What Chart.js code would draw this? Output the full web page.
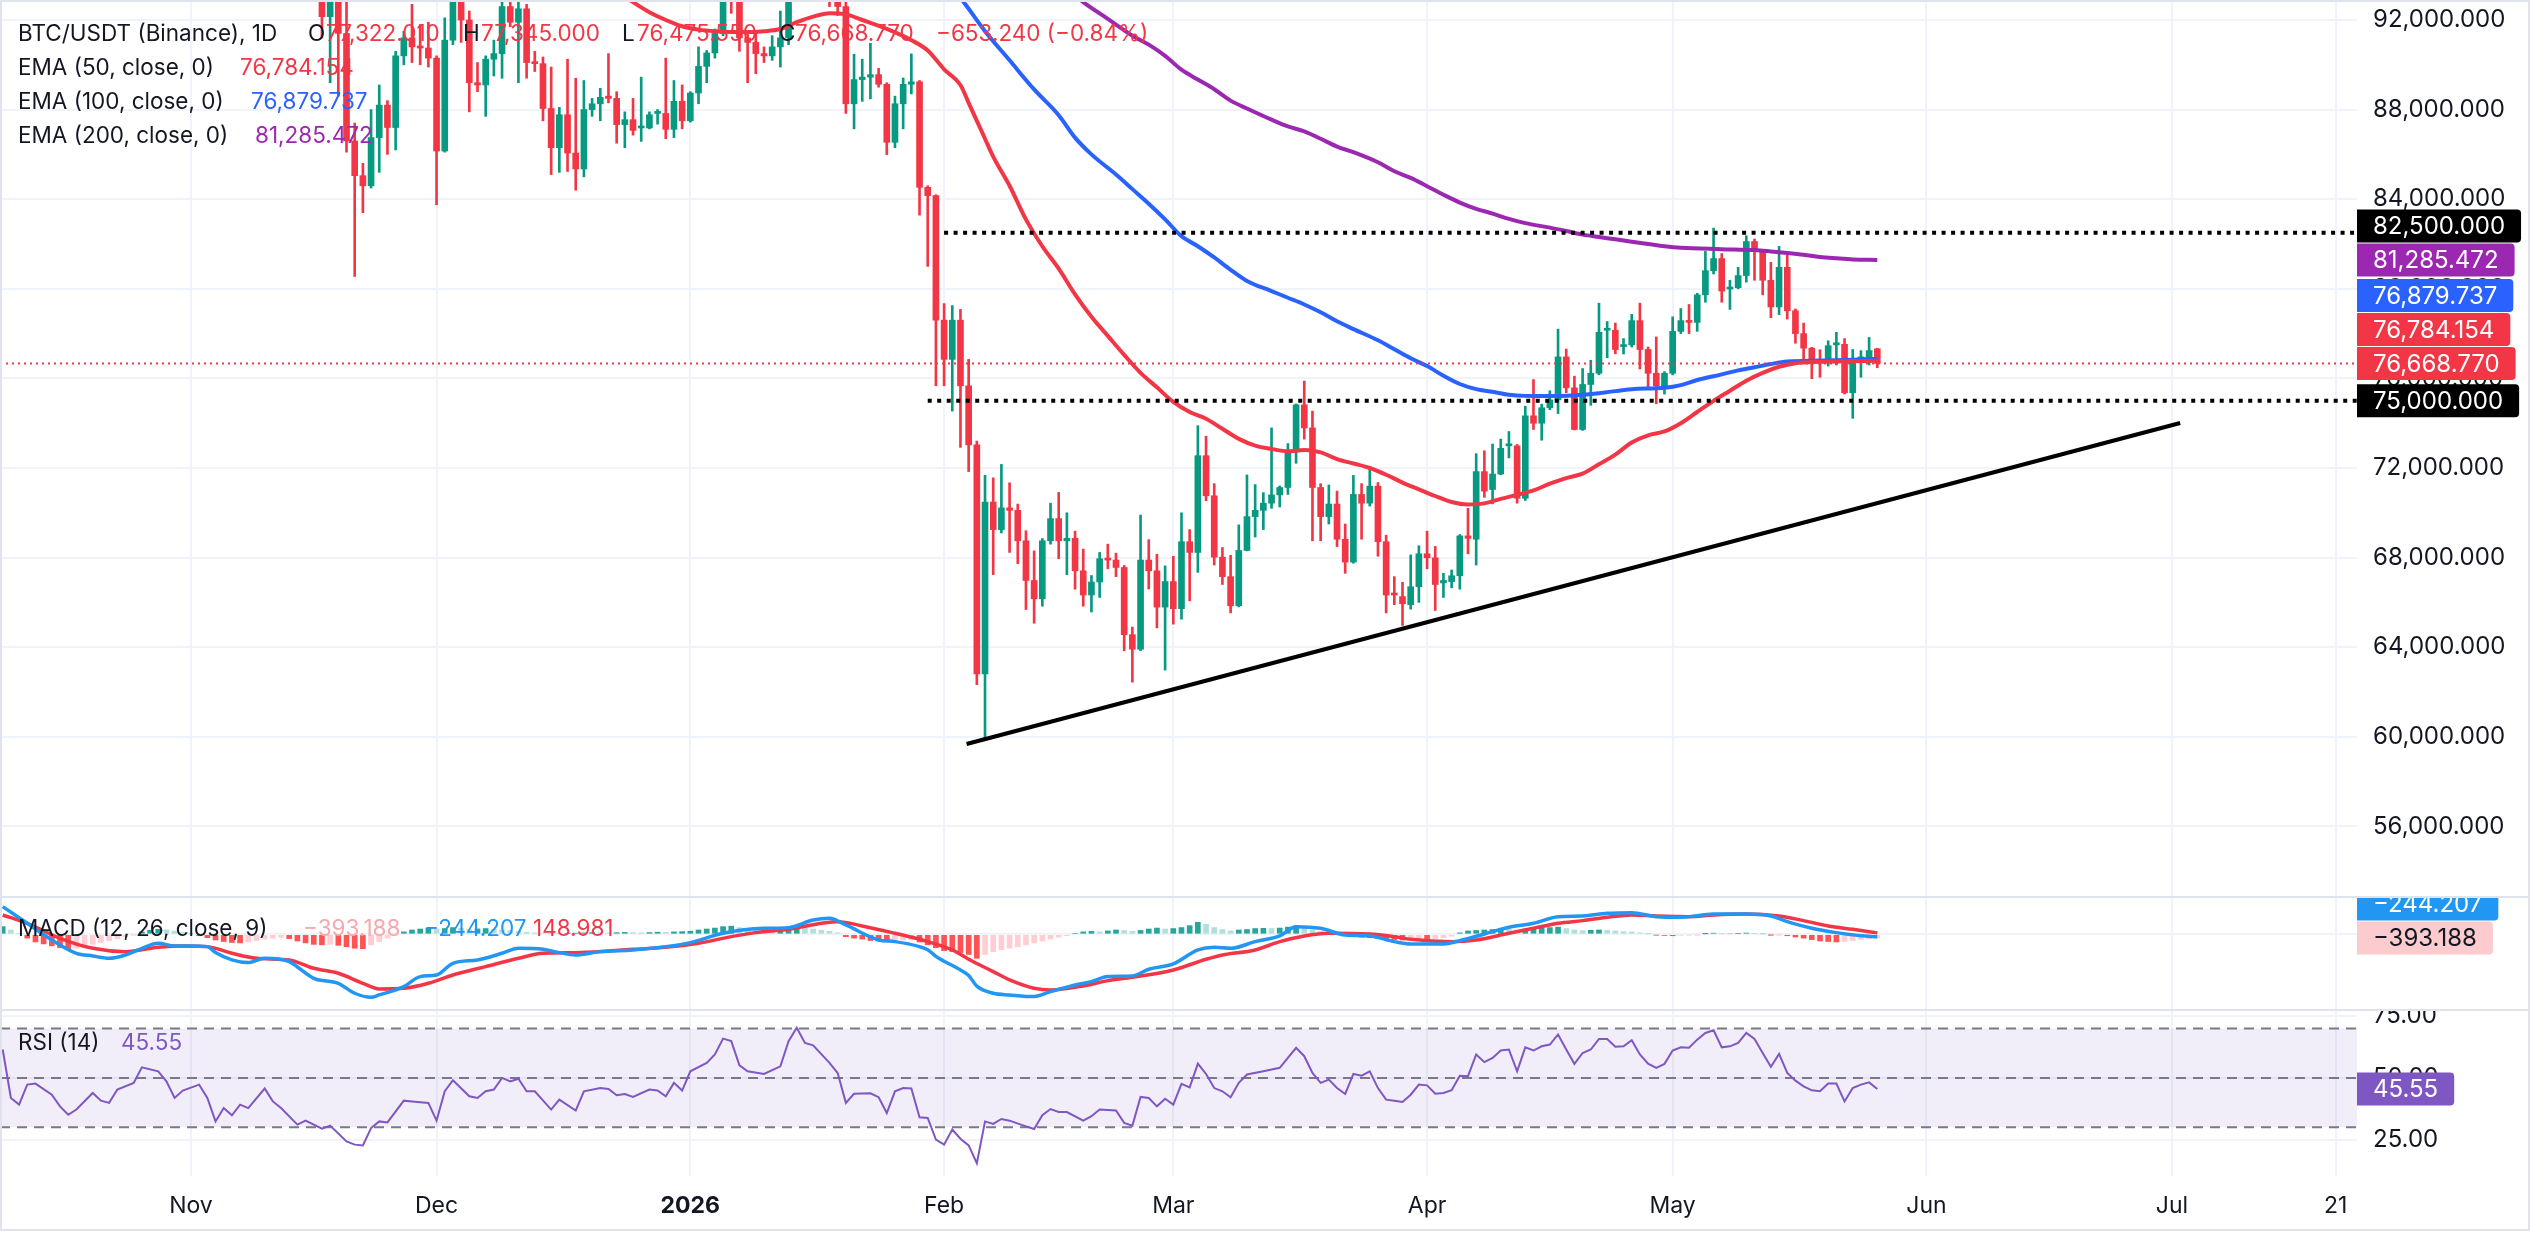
<!DOCTYPE html>
<html>
<head>
<meta charset="utf-8">
<title>BTC/USDT 1D</title>
<script src="https://cdn.jsdelivr.net/npm/chart.js@4.4.1/dist/chart.umd.min.js"></script>
<style>
  html, body { margin: 0; padding: 0; background: #fff; }
  body { position: relative; width: 2530px; height: 1253px; overflow: hidden; font-family: Inter, "Noto Sans", sans-serif; color: #131722; }
  canvas { position: absolute; left: 0; }
  .line { position: absolute; background: #e0e3eb; }
  .txt { position: absolute; white-space: nowrap; font-size: 22.5px; line-height: 26px; transform: translateY(-50%); }
</style>
</head>
<body>
<canvas id="mainChart" width="2530" height="896" style="top:0"></canvas>
<canvas id="macdChart" width="2530" height="111" style="top:898px"></canvas>
<canvas id="rsiChart" width="2530" height="218" style="top:1011px"></canvas>
<div class="line" style="left:0;top:896px;width:2530px;height:2px"></div>
<div class="line" style="left:0;top:1009px;width:2530px;height:2px"></div>
<div class="line" style="left:0;top:0;width:2530px;height:2px"></div>
<div class="line" style="left:0;top:1229px;width:2530px;height:2px"></div>
<div class="line" style="left:0;top:0;width:2px;height:1231px"></div>
<div class="line" style="left:2528px;top:0;width:2px;height:1231px"></div>
<div id="legend"></div>
<script>
// x values are days counted from 1 Feb 2026 (day 0), one candle per day
const FIRST_CANDLE_DAY = -76; // 17 Nov 2025

// candles, prices in thousands of USDT
const opens = [
  94.2, 92.15, 92.9, 91.4, 86.6, 85.05, 84.6, 86.75, 88.2, 87.2,
  90.4, 91.2, 90.8, 90.75, 90.3, 86.15, 91.1, 93.5, 92.0, 89.2,
  89.1, 90.25, 90.5, 92.6, 91.9, 92.5, 90.1, 90.05, 88.05, 86.3,
  87.77, 86.06, 85.35, 88.0, 88.26, 88.6, 88.5, 87.33, 87.55, 87.18,
  87.18, 87.83, 87.83, 87.12, 88.37, 87.5, 88.74, 89.93, 90.53, 91.4,
  93.8, 93.7, 91.2, 91.0, 90.5, 90.4, 90.8, 91.2, 95.3, 97.0,
  95.6, 95.5, 95.1, 93.6, 92.6, 88.26, 89.34, 89.45, 89.56, 89.13,
  86.54, 88.26, 89.13, 89.24, 84.53, 84.16, 78.6, 76.85, 78.6, 75.67,
  73.03, 62.81, 70.48, 69.25, 70.22, 70.11, 68.75, 66.98, 66.16, 68.75,
  69.74, 68.75, 68.86, 67.41, 66.33, 66.91, 67.95, 67.89, 67.56, 64.56,
  63.91, 67.89, 67.41, 65.79, 66.93, 65.72, 68.71, 68.23, 72.55, 70.76,
  68.02, 67.15, 65.85, 68.32, 69.83, 70.11, 70.43, 70.8, 71.13, 72.77,
  74.82, 73.79, 71.13, 69.83, 70.39, 68.82, 67.8, 70.82, 70.43, 71.19,
  68.71, 66.39, 66.26, 65.9, 66.7, 68.17, 67.99, 66.87, 66.93, 67.19,
  68.97, 68.82, 71.84, 71.04, 71.73, 72.99, 72.99, 70.65, 74.33, 74.0,
  74.69, 75.04, 76.96, 75.58, 73.72, 75.73, 76.23, 78.15, 78.15, 77.42,
  77.5, 78.58, 77.29, 76.23, 75.67, 76.23, 78.1, 78.58, 78.5, 79.73,
  80.81, 81.35, 79.99, 80.05, 80.59, 82.11, 81.67, 80.38, 79.19, 80.96,
  79.02, 78.0, 77.35, 76.81, 76.7, 77.5, 77.52, 75.36, 76.85, 76.92,
  77.32201
];
const highs = [
  96.0, 93.8, 93.0, 93.1, 87.4, 85.6, 88.0, 89.1, 88.4, 90.6,
  91.5, 92.7, 91.8, 91.9, 90.4, 92.1, 94.1, 94.0, 92.4, 90.1,
  90.4, 91.1, 93.0, 94.0, 93.0, 92.7, 90.6, 90.35, 89.9, 88.1,
  90.25, 89.4, 89.3, 88.5, 88.95, 90.5, 88.8, 87.9, 88.5, 89.45,
  87.9, 88.0, 90.3, 89.3, 89.1, 88.8, 90.8, 90.64, 91.6, 94.5,
  94.6, 94.0, 91.5, 91.5, 90.8, 91.3, 92.4, 95.5, 97.9, 97.2,
  95.9, 95.6, 95.5, 93.7, 93.0, 90.47, 90.25, 90.96, 89.84, 89.2,
  88.6, 89.41, 90.49, 89.3, 84.6, 84.2, 79.34, 79.25, 79.08, 76.85,
  73.2, 71.67, 71.56, 72.16, 71.34, 70.39, 69.2, 68.3, 68.85, 70.43,
  70.91, 70.0, 69.18, 68.38, 67.2, 68.23, 68.6, 68.2, 67.65, 64.9,
  69.9, 68.8, 68.15, 67.63, 68.06, 70.0, 69.25, 73.89, 73.42, 71.3,
  68.45, 68.1, 69.46, 71.69, 71.26, 70.9, 73.79, 71.2, 73.09, 74.86,
  75.88, 74.54, 71.3, 71.24, 70.97, 69.5, 71.67, 71.3, 71.95, 71.35,
  69.0, 67.15, 66.9, 68.12, 68.53, 69.18, 68.5, 67.3, 67.45, 69.03,
  70.2, 72.64, 72.77, 73.07, 73.29, 73.63, 73.05, 74.76, 75.95, 74.85,
  75.45, 78.2, 77.31, 76.1, 76.44, 76.81, 79.36, 78.54, 78.47, 77.78,
  78.86, 79.36, 77.4, 77.85, 76.3, 78.75, 79.12, 79.3, 79.8, 81.67,
  82.71, 81.57, 80.38, 80.96, 82.37, 82.22, 81.71, 81.18, 81.89, 81.57,
  79.1, 78.47, 77.39, 77.28, 77.68, 78.06, 77.78, 77.29, 77.24, 77.83,
  77.345
];
const lows = [
  91.2, 89.2, 88.6, 86.1, 80.55, 83.4, 84.5, 85.2, 86.0, 86.2,
  90.0, 90.1, 90.0, 89.9, 83.75, 86.1, 90.9, 91.0, 87.9, 88.8,
  87.7, 89.5, 89.4, 91.7, 89.2, 89.4, 89.7, 87.5, 85.1, 85.2,
  85.24, 84.4, 85.0, 87.7, 87.5, 88.3, 86.5, 86.3, 86.86, 86.58,
  87.14, 87.35, 86.7, 86.75, 87.14, 87.44, 88.26, 89.2, 90.3, 91.3,
  92.3, 90.6, 89.2, 89.6, 90.1, 90.2, 89.9, 90.9, 94.8, 95.1,
  94.3, 94.9, 92.6, 92.2, 87.83, 87.14, 88.37, 88.48, 89.0, 85.99,
  86.3, 87.14, 88.7, 83.29, 81.0, 75.67, 75.67, 74.54, 72.92, 71.84,
  62.33, 59.95, 67.24, 69.1, 68.23, 67.73, 65.68, 65.07, 65.83, 68.6,
  67.95, 67.24, 66.59, 65.83, 65.57, 66.22, 67.5, 67.15, 63.84, 62.44,
  63.85, 66.6, 64.86, 62.98, 65.03, 65.25, 66.07, 67.34, 70.54, 67.67,
  66.8, 65.53, 65.8, 68.3, 68.92, 69.25, 70.2, 70.26, 70.82, 72.21,
  73.29, 68.75, 68.75, 69.5, 68.49, 67.3, 67.75, 68.82, 70.3, 68.06,
  65.53, 65.9, 64.97, 65.7, 66.0, 67.5, 65.64, 66.22, 66.65, 66.59,
  68.17, 67.67, 70.69, 70.4, 71.7, 72.45, 70.43, 70.55, 73.72, 73.24,
  74.6, 74.43, 75.36, 73.7, 73.68, 74.8, 76.16, 76.92, 77.1, 77.09,
  77.4, 76.42, 75.62, 74.87, 75.3, 76.16, 78.0, 78.0, 78.1, 79.4,
  80.66, 79.4, 79.08, 80.0, 80.3, 80.38, 79.73, 78.71, 78.85, 78.65,
  77.57, 76.7, 75.99, 76.05, 76.55, 76.6, 75.3, 74.22, 76.05, 76.6,
  76.47555
];
const closes = [
  92.15, 92.9, 91.4, 86.6, 85.05, 84.6, 86.75, 88.2, 87.2, 90.4,
  91.2, 90.8, 90.75, 90.3, 86.15, 91.1, 93.5, 92.0, 89.2, 89.1,
  90.25, 90.5, 92.6, 91.9, 92.5, 90.1, 90.05, 88.05, 86.3, 87.77,
  86.06, 85.35, 88.0, 88.26, 88.55, 88.5, 87.33, 87.55, 87.07, 87.25,
  87.77, 87.88, 87.12, 88.37, 87.5, 88.74, 89.93, 90.53, 91.4, 93.8,
  93.7, 91.2, 91.0, 90.5, 90.4, 90.8, 91.2, 95.3, 97.0, 95.6,
  95.5, 95.1, 93.6, 92.6, 88.26, 89.34, 89.45, 89.56, 89.13, 86.54,
  88.26, 89.13, 89.24, 84.53, 84.16, 78.6, 76.85, 78.6, 75.67, 73.03,
  62.81, 70.48, 69.25, 70.22, 70.11, 68.75, 66.98, 66.16, 68.75, 69.74,
  68.75, 68.86, 67.41, 66.33, 66.91, 67.95, 67.89, 67.56, 64.56, 63.91,
  67.89, 67.41, 65.79, 66.93, 65.72, 68.71, 68.23, 72.55, 70.76, 68.02,
  67.15, 65.85, 68.32, 69.83, 70.11, 70.43, 70.8, 71.13, 72.77, 74.82,
  73.79, 71.13, 69.83, 70.39, 68.82, 67.8, 70.82, 70.43, 71.19, 68.71,
  66.33, 66.33, 65.94, 66.7, 68.17, 67.99, 66.8, 66.98, 67.19, 68.97,
  68.86, 71.84, 70.97, 71.73, 72.88, 73.03, 70.65, 74.33, 74.0, 74.69,
  75.04, 76.96, 75.58, 73.72, 75.73, 76.23, 78.06, 78.17, 77.29, 77.5,
  78.58, 77.29, 76.23, 75.67, 76.23, 78.1, 78.58, 78.5, 79.73, 80.81,
  81.35, 79.9, 80.05, 80.59, 82.11, 81.67, 80.38, 79.19, 80.96, 79.02,
  78.0, 77.35, 76.7, 76.7, 77.46, 77.52, 75.36, 76.85, 76.96, 77.24,
  76.66877
];

// moving averages (day, thousands)
const ema50Days = [-40, -38, -36, -34, -32, -30, -28, -24, -22, -20, -18, -16, -14, -12, -10, -7, -4, -2, 0, 2, 3, 4, 5, 6, 8, 10, 12, 14, 16, 18, 20, 22, 24, 26, 28, 30, 32, 34, 36, 38, 40, 42, 44, 46, 48, 50, 52, 54, 56, 58, 60, 62, 64, 66, 68, 70, 72, 74, 76, 78, 80, 82, 84, 86, 88, 90, 92, 94, 96, 98, 100, 102, 104, 107, 110, 114];
const ema50 = [93.3, 92.8, 92.35, 92.0, 91.72, 91.57, 91.5, 91.46, 91.5, 91.6, 91.9, 92.15, 92.3, 92.25, 92.0, 91.6, 91.1, 90.64, 89.8, 89.1, 88.3, 87.5, 86.7, 85.9, 84.6, 83.1, 81.9, 80.9, 79.75, 78.75, 77.9, 77.05, 76.25, 75.6, 74.95, 74.5, 74.2, 73.75, 73.3, 73.0, 72.85, 72.75, 72.8, 72.7, 72.4, 72.2, 72.0, 71.7, 71.35, 71.05, 70.75, 70.48, 70.37, 70.42, 70.62, 70.8, 71.0, 71.3, 71.55, 71.75, 72.17, 72.6, 73.14, 73.46, 73.63, 74.0, 74.5, 75.0, 75.45, 75.9, 76.25, 76.52, 76.68, 76.74, 76.77, 76.784154];
const ema100Days = [2, 3, 5, 8, 11, 14, 16, 18, 21, 23, 25, 27, 29, 31, 33, 35, 37, 40, 42, 44, 46, 48, 50, 53, 55, 57, 59, 61, 63, 65, 67, 69, 71, 74, 77, 80, 84, 88, 90, 92, 95, 97, 99, 101, 103, 107, 111, 114];
const ema100 = [93.0, 92.5, 91.5, 90.2, 88.9, 87.75, 86.75, 86.0, 85.1, 84.45, 83.8, 83.1, 82.35, 81.9, 81.4, 80.85, 80.35, 79.9, 79.6, 79.3, 78.95, 78.55, 78.2, 77.7, 77.3, 76.9, 76.55, 76.12, 75.75, 75.52, 75.4, 75.27, 75.22, 75.21, 75.25, 75.34, 75.52, 75.58, 75.7, 75.93, 76.18, 76.36, 76.5, 76.64, 76.75, 76.8, 76.83, 76.879737];
const ema200Days = [16, 17, 20, 23, 25, 27, 29, 31, 33, 35, 37, 40, 42, 44, 46, 48, 50, 53, 55, 57, 59, 61, 63, 65, 67, 69, 71, 74, 76, 78, 80, 82, 84, 86, 88, 90, 95, 99, 101, 103, 105, 107, 109, 111, 114];
const ema200 = [93.1, 92.8, 92.05, 91.3, 90.9, 90.4, 89.78, 89.34, 88.91, 88.4, 88.05, 87.55, 87.25, 87.03, 86.7, 86.35, 86.1, 85.65, 85.25, 84.95, 84.58, 84.2, 83.85, 83.57, 83.36, 83.12, 82.93, 82.73, 82.58, 82.42, 82.31, 82.21, 82.1, 82.0, 81.9, 81.83, 81.77, 81.73, 81.67, 81.6, 81.52, 81.42, 81.36, 81.31, 81.285472];

// drawn levels
const resistance = 82.5, resistanceFrom = 0;
const support = 75.0, supportFrom = -2;
const trendDays = [2.75, 151];
const trendPrices = [59.68, 74.01];

// MACD (12, 26, close, 9)
const macdDays = [-115, -112, -109, -106, -104, -102, -100, -98, -96, -94, -92, -90, -89, -87, -85, -83, -80, -79, -77, -74, -72, -70, -69, -66, -64, -62, -60, -57, -54, -52, -49, -47, -45, -42, -38, -34, -31, -27, -22, -19, -16, -14, -12, -8, -6, -3, -2, -1, 0, 2, 3, 4, 6, 8, 11, 13, 16, 18, 20, 23, 25, 28, 31, 33, 35, 38, 41, 43, 46, 49, 52, 55, 57, 61, 63, 66, 69, 72, 75, 78, 81, 84, 87, 90, 94, 98, 101, 103, 106, 109, 112, 114];
const macdLine = [2880, 1145, -590, -1978, -2256, -2499, -2152, -1458, -937, -1215, -1215, -1284, -1900, -2672, -2950, -2499, -2846, -3400, -4581, -5101, -6142, -6558, -6316, -5448, -4407, -4234, -3019, -2672, -1978, -1458, -1562, -1909, -2152, -1805, -1631, -1284, -868, 104, 625, 694, 1492, 1666, 972, -590, -764, -1284, -1600, -2300, -2800, -3713, -4300, -5400, -6142, -6316, -6489, -5969, -5275, -4928, -4400, -4338, -3644, -3088, -1631, -1353, -1458, -764, -174, 798, 625, -70, -174, -764, -1007, -1007, -659, 35, 729, 1145, 1839, 1908, 2186, 2256, 1839, 1770, 2117, 2117, 1908, 1319, 625, 174, -150, -244.207];
const signalDays = [-115, -112, -108, -104, -100, -96, -93, -90, -87, -84, -80, -77, -74, -71, -69, -66, -63, -60, -56, -52, -49, -45, -41, -38, -34, -30, -26, -23, -19, -15, -13, -10, -6, -3, -2, 1, 3, 6, 8, 11, 13, 17, 20, 23, 28, 32, 34, 38, 41, 44, 47, 52, 55, 57, 62, 65, 69, 72, 75, 78, 81, 84, 87, 91, 94, 98, 102, 105, 108, 111, 114];
const signalLine = [2013, 1145, -417, -1458, -1805, -1353, -1215, -1284, -1978, -2499, -2672, -3540, -4060, -5101, -5691, -5622, -5101, -4234, -3366, -2499, -1978, -1909, -1735, -1562, -1353, -937, -243, 174, 520, 1145, 1319, 868, 104, -521, -764, -1631, -2600, -3887, -4754, -5622, -5795, -5379, -4823, -4476, -3713, -2603, -2152, -1631, -764, -174, 104, 35, -243, -521, -764, -590, 104, 625, 1145, 1423, 1770, 2013, 1908, 1839, 2013, 2117, 1908, 1423, 868, 520, 148.981];
const HIST_FIRST_DAY = -115;
const histogram = [
  800, 450, 100, -400, -800, -1000, -1200, -1400, -1500, -1450,
  -1300, -1050, -850, -650, -450, -250, -50, 250, 420, 520,
  470, 330, 180, 60, -150, -350, -600, -750, -850, -900,
  -800, -650, -500, -400, -300, -450, -700, -900, -1050, -1100,
  -1050, -1150, -1300, -1450, -1500, -1100, -750, -400, -100, 250,
  450, 550, 620, 560, 600, 700, 620, 500, 560, 600,
  520, 450, 400, 300, 220, 150, 120, 80, 60, 90,
  120, 150, 180, 160, 130, 170, 200, 180, 150, 180,
  220, 200, 250, 280, 320, 450, 550, 650, 800, 850,
  700, 580, 520, 450, 430, 500, 650, 750, 700, 550,
  420, 300, 150, -250, -400, -500, -650, -700, -780, -700,
  -600, -550, -800, -1100, -1400, -1700, -1800, -1900, -2100, -2500,
  -2100, -1800, -1600, -1450, -1300, -1100, -900, -700, -500, -300,
  -150, 100, 250, 300, 250, 350, 450, 400, 300, 400,
  550, 650, 550, 600, 700, 900, 1250, 1050, 700, 500,
  350, 450, 500, 600, 620, 600, 650, 750, 800, 650,
  450, 300, 200, 80, -50, -200, -300, -350, -400, -450,
  -550, -600, -550, -500, -550, -450, -350, -200, 150, 350,
  400, 450, 500, 550, 520, 450, 550, 580, 620, 700,
  750, 600, 450, 380, 420, 450, 420, 350, 280, 250,
  150, 50, -80, -120, -150, -100, -80, -50, 50, 120,
  80, 50, 90, 130, 80, 20, -50, -30, -150, -280,
  -400, -550, -700, -750, -800, -750, -650, -550, -480, -393.188
];

// RSI (14)
const rsiDays = [-115, -114, -113, -112, -111, -109, -108, -107, -106, -104, -103, -102, -101, -99, -98, -96, -95, -94, -93, -91, -90, -89, -88, -87, -86, -85, -83, -82, -81, -79, -78, -76, -75, -73, -72, -71, -70, -69, -68, -66, -65, -63, -62, -61, -60, -58, -57, -56, -55, -54, -53, -52, -51, -50, -48, -47, -45, -44, -42, -41, -40, -39, -38, -36, -35, -34, -33, -32, -31, -29, -28, -27, -26, -25, -24, -22, -20, -19, -18, -17, -16, -14, -13, -12, -11, -9, -8, -7, -6, -5, -4, -3, -2, -1, 0, 1, 2, 3, 4, 5, 6, 7, 8, 10, 11, 12, 13, 14, 15, 17, 18, 19, 21, 22, 23, 24, 25, 26, 27, 28, 29, 30, 31, 32, 33, 34, 35, 36, 37, 39, 41, 43, 44, 45, 46, 47, 48, 49, 50, 51, 52, 53, 54, 55, 56, 57, 58, 59, 60, 61, 62, 63, 64, 65, 66, 67, 68, 69, 70, 71, 72, 73, 74, 75, 76, 77, 78, 79, 80, 81, 82, 83, 84, 85, 86, 87, 88, 89, 90, 91, 92, 93, 94, 95, 96, 97, 98, 99, 100, 101, 102, 103, 104, 105, 106, 107, 108, 109, 110, 111, 112, 113, 114];
const rsiValues = [61.5, 41.9, 39.2, 47.3, 47.7, 43.2, 38.5, 35.1, 37.2, 43.9, 40.8, 39.9, 45.3, 48, 54.3, 52.7, 48.6, 41.9, 44.9, 47.3, 41.9, 32.4, 37.8, 34.9, 39.2, 37.8, 45.7, 40.5, 37.8, 31.1, 32.7, 29.5, 30.7, 24.3, 23, 22.7, 29.7, 32.4, 32, 40.8, 40.5, 39.9, 32.7, 44.6, 49.1, 42.6, 41.9, 44.6, 45.3, 50, 48.6, 49.7, 44.6, 44.6, 37.2, 41.2, 36.8, 44.6, 45.9, 45.5, 43, 43.5, 42.3, 45.3, 44.9, 42.6, 48, 44.9, 52.7, 56.1, 59.5, 65.9, 64.9, 55.1, 52.7, 51.6, 54.7, 64.9, 70.3, 64.2, 63.2, 56.1, 52, 39.9, 43.6, 43.8, 42.2, 35.8, 44.6, 45.9, 45.7, 34.1, 33.8, 25, 23, 29.1, 25.4, 22.7, 15.5, 32.4, 31.4, 33.4, 32.7, 30.4, 29.3, 34.9, 37.4, 36.2, 36.2, 32.7, 34.5, 37.2, 36.8, 31.8, 30.7, 42.3, 41.9, 38.5, 41.6, 39.2, 47.6, 46.2, 55.8, 51.6, 45.9, 44.6, 42.2, 48, 51.4, 52.7, 54.1, 62.2, 58.8, 52, 48, 49.3, 45.9, 43.5, 51.6, 50.9, 52.7, 45.9, 41.2, 40.8, 40.3, 43.2, 47.3, 47, 43.6, 43.9, 45, 50.9, 50.7, 59.5, 56.4, 58.1, 61.1, 61.5, 52.7, 62.4, 61.1, 62.8, 63.5, 67.6, 61.5, 55.7, 60.1, 61.5, 65.8, 65.8, 62.6, 62.8, 65.3, 59.5, 55.8, 54.1, 55.7, 61.1, 62.4, 62.2, 65.5, 68.2, 69.3, 62.4, 62.8, 64.2, 68.2, 65.8, 60.1, 54.5, 59.7, 52, 48.9, 46.6, 45, 44.6, 47.7, 47.7, 40.5, 45.9, 47.3, 48.2, 45.55];
const rsiLevels = [70, 50, 30];

// axis ticks
const priceTicks = [56, 60, 64, 68, 72, 76, 80, 84, 88, 92];
const rsiTicks = [25, 50, 75];
const monthTickDays = [-92, -62, -31, 0, 28, 59, 89, 120, 150, 170];
const monthTickLabels = ['Nov', 'Dec', '2026', 'Feb', 'Mar', 'Apr', 'May', 'Jun', 'Jul', '21'];

// ---- layout and style ----
const DAY_MIN = -115.33, DAY_MAX = 172.6;
const PRICE_MIN = 52.893, PRICE_MAX = 92.893;
const MACD_MIN = -7781, MACD_MAX = 3781;
const RSI_MIN = 10.3, RSI_MAX = 77.1;
const AXIS_W = 173;
const FONT = 'Inter, "Noto Sans", sans-serif';
const TEXT = '#131722';
const GRID = '#f0f3fa';
const UP = '#089981', DOWN = '#F23645';
const RED = '#F23645', BLUE = '#2962FF', PURPLE = '#9C27B0';
const MACD_BLUE = '#2196F3', RSI_PURPLE = '#7E57C2';

Chart.defaults.font.family = FONT;
Chart.defaults.color = TEXT;

const fmt3 = v => v.toLocaleString('en-US', { minimumFractionDigits: 3, maximumFractionDigits: 3 }).replace('-', '\u2212');
const fmtPrice = v => fmt3(v * 1000);
const pts = (xs, ys) => xs.map((x, i) => ({ x, y: ys[i] }));

function timeAxis(showLabels) {
  return {
    type: 'linear', min: DAY_MIN, max: DAY_MAX, offset: false,
    grid: { color: GRID, lineWidth: 2, drawTicks: false, offset: false },
    border: { display: false },
    ticks: {
      display: showLabels, autoSkip: false, maxRotation: 0, padding: 16, color: TEXT,
      font: ctx => ({ family: FONT, size: 23, weight: monthTickLabels[ctx.index] === '2026' ? 'bold' : 'normal' }),
      callback: (value, index) => monthTickLabels[index]
    },
    afterBuildTicks: scale => { scale.ticks = monthTickDays.map(value => ({ value })); },
    afterFit: scale => { scale.height = showLabels ? 53 : 0; scale.paddingLeft = 0; scale.paddingRight = 0; }
  };
}

function valueAxis(min, max, ticks, showLabels, format) {
  return {
    position: 'right', min, max,
    grid: { color: GRID, lineWidth: 2, drawTicks: false },
    border: { display: false },
    ticks: { display: showLabels, autoSkip: false, padding: 16, color: TEXT, font: { family: FONT, size: 24 }, callback: format },
    afterBuildTicks: scale => { scale.ticks = ticks.map(value => ({ value })); },
    afterFit: scale => { scale.width = AXIS_W; scale.paddingTop = 0; scale.paddingBottom = 0; }
  };
}

// value tags on the right axis, pushed upwards so they don't overlap
const TAG_H = 33, TAG_STEP = 34;
function badges(items) {
  return {
    id: 'badges',
    afterDraw(chart) {
      const { ctx, chartArea } = chart;
      const y = chart.scales.y;
      const list = items.map(it => Object.assign({ py: y.getPixelForValue(it.value) }, it)).sort((a, b) => b.py - a.py);
      let limit = Infinity;
      ctx.save();
      ctx.font = '24px ' + FONT;
      ctx.textBaseline = 'middle';
      list.forEach(it => {
        const cy = Math.min(it.py, limit);
        limit = cy - TAG_STEP;
        const w = ctx.measureText(it.text).width + 32;
        ctx.fillStyle = it.bg;
        ctx.beginPath();
        ctx.roundRect(chartArea.right, cy - TAG_H / 2, w, TAG_H, [0, 4, 4, 0]);
        ctx.fill();
        ctx.fillStyle = it.fg;
        ctx.fillText(it.text, chartArea.right + 16, cy + 1);
      });
      ctx.restore();
    }
  };
}

const baseOptions = {
  responsive: false, devicePixelRatio: 1, animation: false, events: [],
  layout: { padding: 0 },
  plugins: { legend: { display: false }, tooltip: { enabled: false } }
};

// ---- price pane ----
const candleDays = opens.map((_, i) => FIRST_CANDLE_DAY + i);
const candleColors = opens.map((o, i) => closes[i] >= o ? UP : DOWN);
const last = opens.length - 1;
const lastClose = closes[last];

const lineSet = (label, data, color, width, order, dash) => ({
  type: 'line', label, data, borderColor: color, borderWidth: width, borderDash: dash || [],
  pointRadius: 0, fill: false, order, cubicInterpolationMode: 'monotone'
});

new Chart(document.getElementById('mainChart'), {
  type: 'bar',
  data: {
    datasets: [
      lineSet('Trend', pts(trendDays, trendPrices), '#000', 4, 1),
      lineSet('Resistance', pts([resistanceFrom, DAY_MAX], [resistance, resistance]), '#000', 4, 2, [4, 5.5]),
      lineSet('Support', pts([supportFrom, DAY_MAX], [support, support]), '#000', 4, 2, [4, 5.5]),
      lineSet('Last', pts([DAY_MIN, DAY_MAX], [lastClose, lastClose]), RED, 2, 3, [2, 4]),
      lineSet('EMA 50', pts(ema50Days, ema50), RED, 4, 4),
      lineSet('EMA 100', pts(ema100Days, ema100), BLUE, 4, 5),
      lineSet('EMA 200', pts(ema200Days, ema200), PURPLE, 4, 6),
      {
        label: 'Body', data: candleDays.map((x, i) => ({ x, y: [opens[i], closes[i]] })),
        backgroundColor: candleColors, barThickness: 6, minBarLength: 2, grouped: false, order: 8, clip: 0
      },
      {
        label: 'Wick', data: candleDays.map((x, i) => ({ x, y: [lows[i], highs[i]] })),
        backgroundColor: candleColors, barThickness: 2, grouped: false, order: 9, clip: 0
      }
    ]
  },
  options: Object.assign({}, baseOptions, {
    scales: { x: timeAxis(false), y: valueAxis(PRICE_MIN, PRICE_MAX, priceTicks, true, v => fmtPrice(v)) }
  }),
  plugins: [badges([
    { value: resistance, text: fmtPrice(resistance), bg: '#000', fg: '#fff' },
    { value: ema200[ema200.length - 1], text: fmtPrice(ema200[ema200.length - 1]), bg: PURPLE, fg: '#fff' },
    { value: ema100[ema100.length - 1], text: fmtPrice(ema100[ema100.length - 1]), bg: BLUE, fg: '#fff' },
    { value: ema50[ema50.length - 1], text: fmtPrice(ema50[ema50.length - 1]), bg: RED, fg: '#fff' },
    { value: lastClose, text: fmtPrice(lastClose), bg: RED, fg: '#fff' },
    { value: support, text: fmtPrice(support), bg: '#000', fg: '#fff' }
  ])]
});

// ---- MACD pane ----
const histColors = histogram.map((v, i) => {
  const prev = i ? histogram[i - 1] : v;
  if (v >= 0) return v >= prev ? '#26A69A' : '#B2DFDB';
  return v < prev ? '#FF5252' : '#FFCDD2';
});
const lastMacd = macdLine[macdLine.length - 1];
const lastSignal = signalLine[signalLine.length - 1];
const lastHist = histogram[histogram.length - 1];

new Chart(document.getElementById('macdChart'), {
  type: 'bar',
  data: {
    datasets: [
      lineSet('MACD', pts(macdDays, macdLine), MACD_BLUE, 3.5, 1),
      lineSet('Signal', pts(signalDays, signalLine), RED, 3.5, 2),
      {
        label: 'Histogram', data: histogram.map((v, i) => ({ x: HIST_FIRST_DAY + i, y: v })),
        backgroundColor: histColors, barThickness: 5, grouped: false, order: 3
      }
    ]
  },
  options: Object.assign({}, baseOptions, {
    scales: { x: timeAxis(false), y: valueAxis(MACD_MIN, MACD_MAX, [0], false, v => v) }
  }),
  plugins: [badges([
    { value: lastMacd, text: fmt3(lastMacd), bg: MACD_BLUE, fg: '#fff' },
    { value: lastHist, text: fmt3(lastHist), bg: '#FCCBCD', fg: TEXT }
  ])]
});

// ---- RSI pane ----
const levelSet = (level, fill) => ({
  label: 'Level ' + level, data: pts([DAY_MIN, DAY_MAX], [level, level]),
  borderColor: '#787B86', borderWidth: 2, borderDash: [10, 7], pointRadius: 0,
  fill: fill ? { value: rsiLevels[2] } : false, backgroundColor: 'rgba(126, 87, 194, 0.1)', order: 3
});
const lastRsi = rsiValues[rsiValues.length - 1];

new Chart(document.getElementById('rsiChart'), {
  type: 'line',
  data: {
    datasets: [
      { label: 'RSI', data: pts(rsiDays, rsiValues), borderColor: RSI_PURPLE, borderWidth: 2, pointRadius: 0, fill: false, order: 1 },
      levelSet(rsiLevels[0], true),
      levelSet(rsiLevels[1], false),
      levelSet(rsiLevels[2], false)
    ]
  },
  options: Object.assign({}, baseOptions, {
    scales: { x: timeAxis(true), y: valueAxis(RSI_MIN, RSI_MAX, rsiTicks, true, v => v.toFixed(2)) }
  }),
  plugins: [badges([
    { value: lastRsi, text: lastRsi.toFixed(2), bg: RSI_PURPLE, fg: '#fff' }
  ])]
});

// ---- legends ----
const legend = document.getElementById('legend');
function addText(x, y, text, color) {
  const el = document.createElement('div');
  el.className = 'txt';
  el.style.left = x + 'px';
  el.style.top = y + 'px';
  el.style.color = color;
  el.textContent = text;
  legend.appendChild(el);
}
const change = (closes[last] - opens[last]) * 1000;
const changePct = change / (opens[last] * 1000) * 100;
addText(18, 33, 'BTC/USDT (Binance), 1D', TEXT);
addText(308, 33, 'O', TEXT); addText(326, 33, fmtPrice(opens[last]), RED);
addText(463, 33, 'H', TEXT); addText(481, 33, fmtPrice(highs[last]), RED);
addText(622, 33, 'L', TEXT); addText(637, 33, fmtPrice(lows[last]), RED);
addText(779, 33, 'C', TEXT); addText(795, 33, fmtPrice(closes[last]), RED);
addText(936, 33, fmt3(change) + ' (' + changePct.toFixed(2).replace('-', '\u2212') + '%)', RED);
addText(18, 67, 'EMA (50, close, 0)', TEXT); addText(240, 67, fmtPrice(ema50[ema50.length - 1]), RED);
addText(18, 101, 'EMA (100, close, 0)', TEXT); addText(251, 101, fmtPrice(ema100[ema100.length - 1]), BLUE);
addText(18, 135, 'EMA (200, close, 0)', TEXT); addText(255, 135, fmtPrice(ema200[ema200.length - 1]), PURPLE);
addText(18, 928, 'MACD (12, 26, close, 9)', TEXT);
addText(303, 928, fmt3(lastHist), '#F7A9AE');
addText(424, 928, fmt3(lastMacd), MACD_BLUE);
addText(533, 928, fmt3(lastSignal), RED);
addText(18, 1042, 'RSI (14)', TEXT);
addText(121, 1042, lastRsi.toFixed(2), RSI_PURPLE);
</script>
</body>
</html>
